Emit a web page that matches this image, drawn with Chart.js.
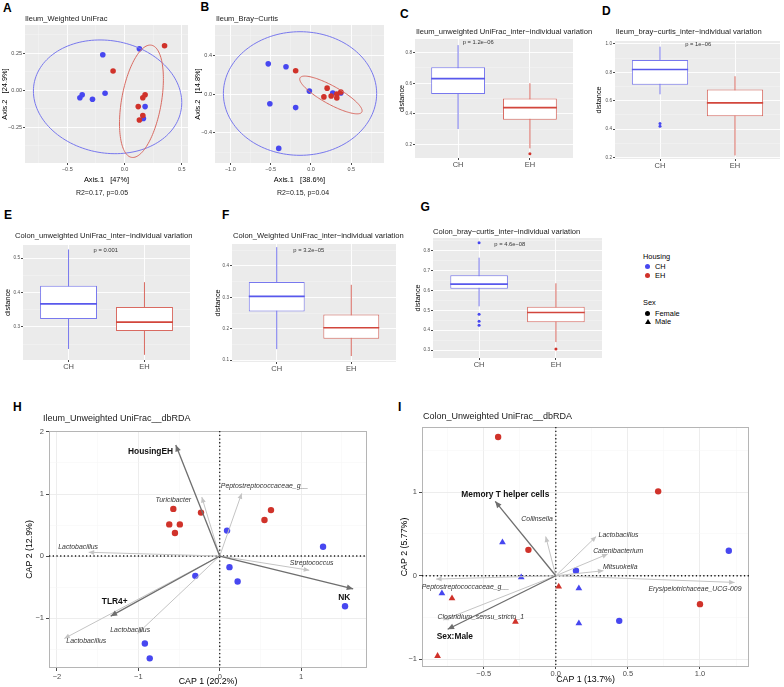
<!DOCTYPE html>
<html>
<head>
<meta charset="utf-8">
<title>Ileum and colon beta diversity</title>
<script src="https://cdn.jsdelivr.net/npm/chart.js@4.4.1/dist/chart.umd.min.js"></script>
<style>
  html,body{margin:0;padding:0;background:#fff;}
  body{width:784px;height:687px;position:relative;overflow:hidden;font-family:"Liberation Sans",Arial,Helvetica,sans-serif;color:#000;}
  canvas{position:absolute;}
  .lt{position:absolute;font-weight:bold;font-size:12px;line-height:12px;color:#000;}
  .lg{position:absolute;font-size:7.4px;line-height:9px;white-space:nowrap;color:#000;}
  .dot{position:absolute;width:5px;height:5px;border-radius:50%;}
  .tri{position:absolute;width:0;height:0;border-left:3px solid transparent;border-right:3px solid transparent;border-bottom:5px solid #000;}
</style>
</head>
<body>
<div class="lt" style="left:3px;top:2.4px">A</div>
<div class="lt" style="left:200.5px;top:1.4px">B</div>
<div class="lt" style="left:400px;top:7.6px">C</div>
<div class="lt" style="left:602px;top:5.4px">D</div>
<div class="lt" style="left:4px;top:209.4px">E</div>
<div class="lt" style="left:222px;top:209.4px">F</div>
<div class="lt" style="left:420.5px;top:201.4px">G</div>
<div class="lt" style="left:13px;top:401.4px">H</div>
<div class="lt" style="left:398px;top:401.4px">I</div>

<div class="lg" style="left:643px;top:251.5px">Housing</div>
<div class="dot" style="left:645px;top:263.5px;background:#4747F0"></div>
<div class="lg" style="left:655px;top:261.5px">CH</div>
<div class="dot" style="left:645px;top:272.5px;background:#D0322A"></div>
<div class="lg" style="left:655px;top:270.5px">EH</div>
<div class="lg" style="left:643px;top:298px">Sex</div>
<div class="dot" style="left:645px;top:310.8px;background:#000"></div>
<div class="lg" style="left:655px;top:308.8px">Female</div>
<div class="tri" style="left:644.5px;top:319px"></div>
<div class="lg" style="left:655px;top:317.2px">Male</div>

<script>
// ================= DATA =================
const groups = ['CH', 'EH'];

// A: Ileum weighted UniFrac PCoA
const aCH_x = [-0.19, 0.13, -0.39, -0.37, -0.28, -0.17, 0.18, 0.165];
const aCH_y = [0.24, 0.28, -0.05, -0.03, -0.06, -0.02, -0.11, -0.19];
const aEH_x = [0.35, -0.10, 0.18, 0.16, 0.12, 0.16, 0.13];
const aEH_y = [0.30, 0.13, -0.03, -0.05, -0.11, -0.17, -0.20];
// ellipse: centre x, centre y, semi-axis 1 (dx, dy), semi-axis 2 (dx, dy) in data units
const aEllipseCH = [-0.148, -0.044, 0.643, -0.088, -0.084, -0.373];
const aEllipseEH = [0.148, -0.074, 0.087, 0.378, 0.171, -0.024];
const aXTicks = [-0.5, 0, 0.5];    const aXLabels = ['\u22120.5', '0.0', '0.5'];
const aXMinor = [-0.75, -0.25, 0.25];
const aYTicks = [-0.25, 0, 0.25];  const aYLabels = ['\u22120.25', '0.00', '0.25'];
const aYMinor = [-0.375, -0.125, 0.125, 0.375];

// B: Ileum Bray-Curtis PCoA
const bCH_x = [-0.53, -0.31, -0.51, -0.19, -0.40, -0.02, 0.27, 0.37];
const bCH_y = [0.31, 0.28, -0.10, -0.14, -0.56, 0.03, 0.01, 0.01];
const bEH_x = [-0.19, 0.20, 0.16, 0.25, 0.32, 0.32, 0.37];
const bEH_y = [0.24, 0.06, -0.03, -0.02, 0.00, -0.04, 0.02];
const bEllipseCH = [-0.136, 0.005, 0.95, 0, 0, 0.636];
const bEllipseEH = [0.247, -0.01, 0.383, -0.176, -0.053, -0.082];
const bXTicks = [-1.0, -0.5, 0, 0.5];  const bXLabels = ['\u22121.0', '\u22120.5', '0.0', '0.5'];
const bXMinor = [-0.75, -0.25, 0.25, 0.75];
const bYTicks = [-0.4, 0, 0.4];  const bYLabels = ['\u22120.4', '0.0', '0.4'];
const bYMinor = [-0.6, -0.2, 0.2, 0.6];

// Box plots: [lower whisker, Q1, median, Q3, upper whisker]
const cCH = [0.30, 0.53, 0.63, 0.705, 0.85];   const cEH = [0.173, 0.36, 0.44, 0.50, 0.60];
const cOutCH = [];                             const cOutEH = [0.138];
const cYTicks = [0.2, 0.4, 0.6, 0.8]; const cYLabels = ['0.2', '0.4', '0.6', '0.8']; const cYMinor = [0.3, 0.5, 0.7];

const dCH = [0.645, 0.713, 0.82, 0.886, 0.98];  const dEH = [0.215, 0.49, 0.585, 0.678, 0.772];
const dOutCH = [0.44, 0.42];                    const dOutEH = [];
const dYTicks = [0.2, 0.4, 0.6, 0.8, 1.0]; const dYLabels = ['0.2', '0.4', '0.6', '0.8', '1.0']; const dYMinor = [0.3, 0.5, 0.7, 0.9];

const eCH = [0.236, 0.323, 0.367, 0.42, 0.525]; const eEH = [0.219, 0.288, 0.314, 0.358, 0.43];
const eOutCH = [];                              const eOutEH = [];
const eYTicks = [0.3, 0.4, 0.5]; const eYLabels = ['0.3', '0.4', '0.5']; const eYMinor = [0.25, 0.35, 0.45];

const fCH = [0.135, 0.255, 0.303, 0.349, 0.46]; const fEH = [0.113, 0.168, 0.203, 0.245, 0.34];
const fOutCH = [];                              const fOutEH = [];
const fYTicks = [0.1, 0.2, 0.3, 0.4]; const fYLabels = ['0.1', '0.2', '0.3', '0.4']; const fYMinor = [0.15, 0.25, 0.35, 0.45];

const gCH = [0.52, 0.608, 0.632, 0.677, 0.765]; const gEH = [0.34, 0.44, 0.489, 0.518, 0.636];
const gOutCH = [0.84, 0.48, 0.445, 0.425];      const gOutEH = [0.305];
const gYTicks = [0.3, 0.4, 0.5, 0.6, 0.7, 0.8]; const gYLabels = ['0.3', '0.4', '0.5', '0.6', '0.7', '0.8'];
const gYMinor = [0.35, 0.45, 0.55, 0.65, 0.75, 0.85];

const pValues = ['p = 1.2e\u221206', 'p = 1e\u221206', 'p = 0.001', 'p = 3.2e\u221205', 'p = 4.6e\u221208'];

// H: Ileum unweighted UniFrac dbRDA
const hEH_x = [-0.57, -0.62, -0.49, -0.55, -0.23, 0.55, 0.63];
const hEH_y = [0.76, 0.51, 0.51, 0.37, 0.70, 0.58, 0.74];
const hCH_x = [0.09, 1.27, 0.12, 0.22, -0.30, 1.54, -0.92, -0.86];
const hCH_y = [0.41, 0.15, -0.18, -0.41, -0.32, -0.81, -1.41, -1.65];
const hEnvNames = ['HousingEH', 'TLR4+', 'NK'];
const hEnvX = [-0.54, -1.34, 1.64];      const hEnvY = [1.79, -0.97, -0.53];
const hEnvLabelX = [-0.85, -1.29, 1.53]; const hEnvLabelY = [1.68, -0.74, -0.68];
const hTaxaNames = ['Lactobacillus', 'Turicibacter', 'Peptostreptococcaceae_g__', 'Streptococcus', 'Lactobacillus', 'Lactobacillus'];
const hTaxaX = [-1.61, -0.22, 0.27, 1.10, -1.91, -1.01];
const hTaxaY = [0.06, 0.95, 1.01, -0.23, -1.33, -1.25];
const hTaxaLabelX = [-1.74, -0.57, 0.55, 1.13, -1.64, -1.10];
const hTaxaLabelY = [0.14, 0.91, 1.12, -0.12, -1.37, -1.19];
const hXTicks = [-2, -1, 0, 1]; const hXLabels = ['\u22122', '\u22121', '0', '1']; const hXMinor = [-1.5, -0.5, 0.5, 1.5];
const hYTicks = [-1, 0, 1, 2];  const hYLabels = ['\u22121', '0', '1', '2'];      const hYMinor = [-1.5, -0.5, 0.5, 1.5];

// I: Colon unweighted UniFrac dbRDA
const iEHf_x = [-0.40, 0.71, -0.19, 1.00];  const iEHf_y = [1.66, 1.01, 0.31, -0.34];
const iCHf_x = [0.14, 1.20, 0.44];          const iCHf_y = [0.06, 0.30, -0.54];
const iCHm_x = [-0.37, -0.24, -0.79, 0.16, 0.16]; const iCHm_y = [0.40, -0.02, -0.21, -0.15, -0.57];
const iEHm_x = [-0.72, 0.02, -0.28, -0.82]; const iEHm_y = [-0.27, -0.13, -0.55, -0.96];
const iEnvNames = ['Memory T helper cells', 'Sex:Male'];
const iEnvX = [-0.42, -0.75];      const iEnvY = [0.89, -0.64];
const iEnvLabelX = [-0.35, -0.70]; const iEnvLabelY = [0.976, -0.724];
const iTaxaNames = ['Collinsella', 'Lactobacillus', 'Catenibacterium', 'Mitsuokella', 'Erysipelotrichaceae_UCG-009', 'Peptostreptococcaceae_g__', 'Clostridium_sensu_stricto_1'];
const iTaxaX = [-0.07, 0.28, 0.36, 0.33, 1.24, -0.83, -0.78];
const iTaxaY = [0.47, 0.47, 0.26, 0.06, -0.08, -0.04, -0.53];
const iTaxaLabelX = [-0.13, 0.435, 0.433, 0.447, 0.965, -0.627, -0.52];
const iTaxaLabelY = [0.676, 0.484, 0.30, 0.108, -0.16, -0.132, -0.49];
const iXTicks = [-0.5, 0, 0.5, 1.0]; const iXLabels = ['\u22120.5', '0.0', '0.5', '1.0']; const iXMinor = [-0.75, -0.25, 0.25, 0.75, 1.25];
const iYTicks = [-1, 0, 1]; const iYLabels = ['\u22121', '0', '1']; const iYMinor = [-0.5, 0.5, 1.5];

// ================= STYLE / HELPERS =================
const FONT = '"Liberation Sans", Arial, Helvetica, sans-serif';
Chart.defaults.font.family = FONT;
Chart.defaults.color = '#4D4D4D';
const C_CH = '#4747F0', C_EH = '#D0322A';
const C_CH_LINE = '#7878EE', C_EH_LINE = '#D96A61';
const C_CH_MED = '#5858EC', C_EH_MED = '#D2463C';

function pts(xs, ys) { return xs.map((x, i) => ({x: x, y: ys[i]})); }
function fnt(size, weight, style) { return (style || 'normal') + ' ' + (weight || 'normal') + ' ' + size + 'px ' + FONT; }

function place(box, area, yT, xT) {
  let pl = 0, pb = 0, xh;
  if (yT) pl = Math.max(0, yT.cx - box.x - yT.lh / 2);
  const yw = area.l - box.x - pl;
  const pt = area.t - box.y;
  const pr = box.x + box.w - area.r;
  if (xT) { const be = Math.min(box.y + box.h, xT.cy + xT.lh / 2); xh = be - area.b; pb = box.y + box.h - be; }
  else { xh = box.y + box.h - area.b; }
  return {padding: {left: pl, top: pt, right: pr, bottom: pb}, yw: yw, xh: xh};
}

function makeCanvas(box) {
  const c = document.createElement('canvas');
  c.width = box.w; c.height = box.h;
  c.style.left = box.x + 'px'; c.style.top = box.y + 'px';
  c.style.width = box.w + 'px'; c.style.height = box.h + 'px';
  document.body.appendChild(c);
  return c;
}

function axis(o) {
  const isMinor = c => !!(c.tick && c.tick.isMinor);
  return {
    type: 'linear', position: o.pos, min: o.min, max: o.max, offset: false,
    afterBuildTicks(s) {
      const t = o.vals.map(v => ({value: v}));
      (o.minors || []).forEach(v => t.push({value: v, isMinor: true}));
      t.sort((a, b) => a.value - b.value);
      s.ticks = t;
    },
    afterFit(s) { if (o.pos === 'left') s.width = o.size; else s.height = o.size; },
    ticks: {
      autoSkip: false, maxRotation: 0, minRotation: 0, padding: o.pad, color: '#4D4D4D',
      font: {size: o.tickSize},
      callback(v, i, ticks) {
        if (ticks[i] && ticks[i].isMinor) return '';
        const k = o.vals.indexOf(v);
        return k < 0 ? '' : o.labels[k];
      }
    },
    grid: {
      display: true, drawOnChartArea: true, drawTicks: true, offset: false, tickLength: o.tickLen,
      color: c => isMinor(c) ? o.minorColor : o.majorColor,
      lineWidth: c => isMinor(c) ? o.minorW : o.majorW,
      tickColor: c => isMinor(c) ? 'rgba(0,0,0,0)' : '#333333'
    },
    border: {display: false},
    title: o.title ? {display: true, text: o.title, color: '#000', font: {size: o.titleSize}, padding: 0} : {display: false}
  };
}

function arrow(ctx, x0, y0, x1, y1, color, lw, head) {
  ctx.strokeStyle = color; ctx.lineWidth = lw; ctx.setLineDash([]);
  ctx.beginPath(); ctx.moveTo(x0, y0); ctx.lineTo(x1, y1); ctx.stroke();
  const a = Math.atan2(y1 - y0, x1 - x0);
  ctx.fillStyle = color; ctx.beginPath(); ctx.moveTo(x1, y1);
  ctx.lineTo(x1 - head * Math.cos(a - 0.42), y1 - head * Math.sin(a - 0.42));
  ctx.lineTo(x1 - head * Math.cos(a + 0.42), y1 - head * Math.sin(a + 0.42));
  ctx.closePath(); ctx.fill();
}

function deco(box, d) {
  return {
    id: 'deco',
    beforeDraw(chart) {
      if (!d.bg) return;
      const a = chart.chartArea, ctx = chart.ctx;
      ctx.save(); ctx.fillStyle = d.bg; ctx.fillRect(a.left, a.top, a.right - a.left, a.bottom - a.top); ctx.restore();
    },
    beforeDatasetsDraw(chart) {
      const a = chart.chartArea, ctx = chart.ctx, xs = chart.scales.x, ys = chart.scales.y;
      ctx.save();
      if (d.frame) { ctx.strokeStyle = d.frame; ctx.lineWidth = 1; ctx.strokeRect(a.left + 0.5, a.top + 0.5, a.right - a.left - 1, a.bottom - a.top - 1); }
      if (d.zero) {
        ctx.strokeStyle = '#1a1a1a'; ctx.lineWidth = 1.3; ctx.setLineDash([1.3, 2.4]);
        const x0 = xs.getPixelForValue(0), y0 = ys.getPixelForValue(0);
        ctx.beginPath(); ctx.moveTo(x0, a.top); ctx.lineTo(x0, a.bottom); ctx.moveTo(a.left, y0); ctx.lineTo(a.right, y0); ctx.stroke();
      }
      ctx.restore();
    },
    afterDatasetsDraw(chart) {
      const ctx = chart.ctx, xs = chart.scales.x, ys = chart.scales.y;
      ctx.save();
      (d.ellipses || []).forEach(e => {
        const p = e.p;
        ctx.strokeStyle = e.color; ctx.lineWidth = 1; ctx.beginPath();
        for (let k = 0; k <= 144; k++) {
          const t = k / 144 * 2 * Math.PI;
          const X = p[0] + p[2] * Math.cos(t) + p[4] * Math.sin(t);
          const Y = p[1] + p[3] * Math.cos(t) + p[5] * Math.sin(t);
          const px = xs.getPixelForValue(X), py = ys.getPixelForValue(Y);
          if (k) ctx.lineTo(px, py); else ctx.moveTo(px, py);
        }
        ctx.closePath(); ctx.stroke();
      });
      (d.arrows || []).forEach(g => {
        const ox = xs.getPixelForValue(0), oy = ys.getPixelForValue(0);
        g.x.forEach((vx, i) => arrow(ctx, ox, oy, xs.getPixelForValue(vx), ys.getPixelForValue(g.y[i]), g.color, g.width, g.head));
      });
      (d.arrows || []).forEach(g => {
        ctx.fillStyle = g.textColor; ctx.font = fnt(g.size, g.weight, g.style);
        ctx.textAlign = 'center'; ctx.textBaseline = 'middle';
        g.names.forEach((n, i) => ctx.fillText(n, xs.getPixelForValue(g.lx[i]), ys.getPixelForValue(g.ly[i])));
      });
      ctx.restore();
    },
    afterDraw(chart) {
      const ctx = chart.ctx;
      ctx.save(); ctx.textBaseline = 'middle';
      (d.texts || []).forEach(t => {
        ctx.font = fnt(t.size, t.weight, t.style); ctx.fillStyle = t.color || '#000'; ctx.textAlign = t.align || 'left';
        let x, y;
        if (t.data) { x = chart.scales.x.getPixelForValue(t.x); y = chart.scales.y.getPixelForValue(t.y); }
        else { x = t.x - box.x; y = t.y - box.y; }
        ctx.fillText(t.text, x, y);
      });
      ctx.restore();
    }
  };
}

function build(box, area, yT, xT, datasets, xAx, yAx, d) {
  const L = place(box, area, yT, xT);
  xAx.size = L.xh; yAx.size = L.yw;
  return new Chart(makeCanvas(box), {
    type: 'scatter',
    data: {datasets: datasets},
    options: {
      responsive: false, animation: false, devicePixelRatio: 1, events: [],
      layout: {padding: L.padding},
      plugins: {legend: {display: false}, tooltip: {enabled: false}},
      scales: {x: axis(xAx), y: axis(yAx)}
    },
    plugins: [deco(box, d)]
  });
}

// ---------- PCoA panels (theme_gray) ----------
const grayGrid = {majorColor: '#FFFFFF', minorColor: '#F7F7F7', majorW: 0.9, minorW: 0.45};
function pcoa(box, area, yTitleCx, chx, chy, ehx, ehy, ellCH, ellEH, xv, xl, xm, yv, yl, ym, xr, yr, xTitle, yTitle, title, titleXY, r2, r2XY) {
  const ds = [
    {data: pts(chx, chy), backgroundColor: C_CH, pointRadius: 2.8, pointBorderWidth: 0, order: 1},
    {data: pts(ehx, ehy), backgroundColor: C_EH, pointRadius: 2.8, pointBorderWidth: 0, order: 0}
  ];
  build(box, area, {cx: yTitleCx, lh: 7.4 * 1.2}, {cy: 180, lh: 7.4 * 1.2}, ds,
    Object.assign({pos: 'bottom', min: xr[0], max: xr[1], vals: xv, labels: xl, minors: xm, tickSize: 5.5, pad: 1, tickLen: 2, title: xTitle, titleSize: 7.4}, grayGrid),
    Object.assign({pos: 'left', min: yr[0], max: yr[1], vals: yv, labels: yl, minors: ym, tickSize: 5.5, pad: 1, tickLen: 2, title: yTitle, titleSize: 7.4}, grayGrid),
    {bg: '#EBEBEB',
     ellipses: [{p: ellCH, color: C_CH_LINE}, {p: ellEH, color: C_EH_LINE}],
     texts: [{text: title, x: titleXY[0], y: titleXY[1], size: 7.5, color: '#1a1a1a'},
             {text: r2, x: r2XY[0], y: r2XY[1], size: 7, align: 'center', color: '#1a1a1a'}]});
}

pcoa({x: 0, y: 10, w: 194, h: 192}, {l: 25, t: 25, r: 188, b: 163}, 5,
  aCH_x, aCH_y, aEH_x, aEH_y, aEllipseCH, aEllipseEH,
  aXTicks, aXLabels, aXMinor, aYTicks, aYLabels, aYMinor, [-0.87, 0.555], [-0.49, 0.44],
  'Axis.1   [47%]', 'Axis.2   [24.9%]', 'Ileum_Weighted UniFrac', [25, 18.5], 'R2=0.17, p=0.05', [102, 193]);

pcoa({x: 190, y: 10, w: 200, h: 192}, {l: 215, t: 25, r: 384, b: 163}, 198.3,
  bCH_x, bCH_y, bEH_x, bEH_y, bEllipseCH, bEllipseEH,
  bXTicks, bXLabels, bXMinor, bYTicks, bYLabels, bYMinor, [-1.19, 0.905], [-0.71, 0.71],
  'Axis.1   [38.6%]', 'Axis.2   [14.8%]', 'Ileum_Bray\u2212Curtis', [216, 18.8], 'R2=0.15, p=0.04', [303, 193]);

// ---------- Box plot panels ----------
function boxPanel(box, area, yTitleCx, sCH, sEH, oCH, oEH, yv, yl, ym, yr, title, titleXY, pText, pXY) {
  const ds = [];
  [[sCH, 1, C_CH_LINE, C_CH_MED], [sEH, 2, C_EH_LINE, C_EH_MED]].forEach(([s, x, c, m]) => {
    ds.push({type: 'line', data: [{x: x, y: s[0]}, {x: x, y: s[4]}], borderColor: c, borderWidth: 1, pointRadius: 0, fill: false, order: 3});
    ds.push({type: 'line', data: [{x: x - 0.375, y: s[2]}, {x: x + 0.375, y: s[2]}], borderColor: m, borderWidth: 1.6, pointRadius: 0, fill: false, order: 1});
  });
  ds.push({type: 'bar', data: [{x: 1, y: [sCH[1], sCH[3]]}, {x: 2, y: [sEH[1], sEH[3]]}],
    backgroundColor: '#FFFFFF', borderColor: [C_CH_LINE, C_EH_LINE], borderWidth: 1, borderSkipped: false,
    barPercentage: 0.75, categoryPercentage: 1, grouped: false, order: 2});
  ds.push({data: oCH.map(v => ({x: 1, y: v})), backgroundColor: C_CH, pointRadius: 1.5, pointBorderWidth: 0, order: 0});
  ds.push({data: oEH.map(v => ({x: 2, y: v})), backgroundColor: C_EH, pointRadius: 1.5, pointBorderWidth: 0, order: 0});
  build(box, area, {cx: yTitleCx, lh: 7.3 * 1.2}, null, ds,
    Object.assign({pos: 'bottom', min: 0.4, max: 2.6, vals: [1, 2], labels: groups, minors: [], tickSize: 7.5, pad: 0, tickLen: 2}, grayGrid),
    Object.assign({pos: 'left', min: yr[0], max: yr[1], vals: yv, labels: yl, minors: ym, tickSize: 4.6, pad: 1, tickLen: 2, title: 'distance', titleSize: 7.3}, grayGrid),
    {bg: '#EBEBEB',
     texts: [{text: title, x: titleXY[0], y: titleXY[1], size: 7.6, color: '#1a1a1a'},
             {text: pText, data: true, x: pXY[0], y: pXY[1], size: 5.8, align: 'center', color: '#333'}]});
}

boxPanel({x: 390, y: 22, w: 205, h: 152}, {l: 415, t: 39, r: 573, b: 158}, 402, cCH, cEH, cOutCH, cOutEH,
  cYTicks, cYLabels, cYMinor, [0.11, 0.89], 'Ileum_unweighted UniFrac_inter\u2212individual variation', [416, 32.3], pValues[0], [1.28, 0.866]);
boxPanel({x: 592, y: 22, w: 192, h: 152}, {l: 615, t: 41, r: 783, b: 159}, 599, dCH, dEH, dOutCH, dOutEH,
  dYTicks, dYLabels, dYMinor, [0.19, 1.02], 'Ileum_bray\u2212curtis_inter\u2212individual variation', [615.7, 31.7], pValues[1], [1.51, 0.993]);
boxPanel({x: 0, y: 222, w: 205, h: 153}, {l: 23, t: 245, r: 190, b: 360}, 8, eCH, eEH, eOutCH, eOutEH,
  eYTicks, eYLabels, eYMinor, [0.204, 0.538], 'Colon_unweighted UniFrac_inter\u2212individual variation', [15, 235.7], pValues[2], [1.49, 0.523]);
boxPanel({x: 205, y: 222, w: 205, h: 153}, {l: 232, t: 244, r: 396, b: 362}, 218, fCH, fEH, fOutCH, fOutEH,
  fYTicks, fYLabels, fYMinor, [0.094, 0.47], 'Colon_Weighted UniFrac_inter\u2212individual variation', [233, 235.7], pValues[3], [1.43, 0.451]);
boxPanel({x: 408, y: 218, w: 210, h: 157}, {l: 433, t: 238, r: 602, b: 358}, 418, gCH, gEH, gOutCH, gOutEH,
  gYTicks, gYLabels, gYMinor, [0.26, 0.864], 'Colon_bray\u2212curtis_inter\u2212individual variation', [433, 231.7], pValues[4], [1.40, 0.834]);

// ---------- dbRDA panels (theme_bw) ----------
const bwGrid = {majorColor: '#EBEBEB', minorColor: '#F5F5F5', majorW: 0.9, minorW: 0.5};
function envGroup(names, x, y, lx, ly) {
  return {names: names, x: x, y: y, lx: lx, ly: ly, color: '#6E6E6E', width: 1.3, head: 7, textColor: '#111', size: 8.4, weight: 'bold'};
}
function taxaGroup(names, x, y, lx, ly) {
  return {names: names, x: x, y: y, lx: lx, ly: ly, color: '#C4C4C4', width: 1, head: 6, textColor: '#333', size: 6.9, style: 'italic'};
}

build({x: 0, y: 405, w: 385, h: 282}, {l: 49, t: 431, r: 367, b: 668}, {cx: 30, lh: 8.8 * 1.2}, {cy: 681.5, lh: 8.8 * 1.2},
  [
    {data: pts(hEH_x, hEH_y), backgroundColor: C_EH, pointRadius: 3.2, pointBorderWidth: 0},
    {data: pts(hCH_x, hCH_y), backgroundColor: C_CH, pointRadius: 3.2, pointBorderWidth: 0}
  ],
  Object.assign({pos: 'bottom', min: -2.098, max: 1.81, vals: hXTicks, labels: hXLabels, minors: hXMinor, tickSize: 7.5, pad: 1, tickLen: 3, title: 'CAP 1 (20.2%)', titleSize: 8.8}, bwGrid),
  Object.assign({pos: 'left', min: -1.806, max: 2.016, vals: hYTicks, labels: hYLabels, minors: hYMinor, tickSize: 7.5, pad: 2, tickLen: 3, title: 'CAP 2 (12.9%)', titleSize: 8.8}, bwGrid),
  {frame: '#B5B5B5', zero: true,
   arrows: [taxaGroup(hTaxaNames, hTaxaX, hTaxaY, hTaxaLabelX, hTaxaLabelY), envGroup(hEnvNames, hEnvX, hEnvY, hEnvLabelX, hEnvLabelY)],
   texts: [{text: 'Ileum_Unweighted UniFrac__dbRDA', x: 43, y: 419, size: 9, color: '#1a1a1a'}]});

build({x: 392, y: 405, w: 392, h: 282}, {l: 422, t: 427, r: 749, b: 667}, {cx: 405, lh: 8.8 * 1.2}, {cy: 679.5, lh: 8.8 * 1.2},
  [
    {data: pts(iEHf_x, iEHf_y), backgroundColor: C_EH, pointRadius: 3.2, pointBorderWidth: 0},
    {data: pts(iCHf_x, iCHf_y), backgroundColor: C_CH, pointRadius: 3.2, pointBorderWidth: 0},
    {data: pts(iCHm_x, iCHm_y), backgroundColor: C_CH, pointStyle: 'triangle', pointRadius: 3.9, pointBorderWidth: 0},
    {data: pts(iEHm_x, iEHm_y), backgroundColor: C_EH, pointStyle: 'triangle', pointRadius: 3.9, pointBorderWidth: 0}
  ],
  Object.assign({pos: 'bottom', min: -0.928, max: 1.34, vals: iXTicks, labels: iXLabels, minors: iXMinor, tickSize: 7.5, pad: 0, tickLen: 2, title: 'CAP 1 (13.7%)', titleSize: 8.8}, bwGrid),
  Object.assign({pos: 'left', min: -1.092, max: 1.78, vals: iYTicks, labels: iYLabels, minors: iYMinor, tickSize: 7.5, pad: 2, tickLen: 3, title: 'CAP 2 (5.77%)', titleSize: 8.8}, bwGrid),
  {frame: '#B5B5B5', zero: true,
   arrows: [taxaGroup(iTaxaNames, iTaxaX, iTaxaY, iTaxaLabelX, iTaxaLabelY), envGroup(iEnvNames, iEnvX, iEnvY, iEnvLabelX, iEnvLabelY)],
   texts: [{text: 'Colon_Unweighted UniFrac__dbRDA', x: 423, y: 416.7, size: 9, color: '#1a1a1a'}]});
</script>
</body>
</html>
